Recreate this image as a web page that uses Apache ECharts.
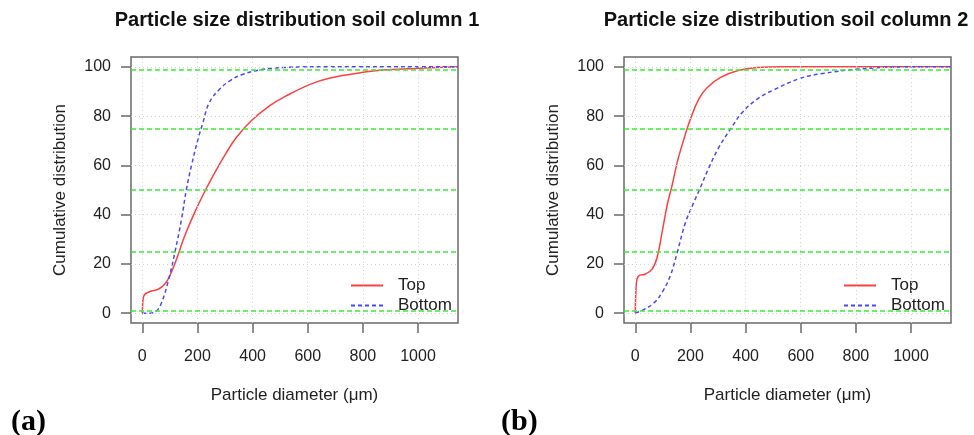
<!DOCTYPE html>
<html>
<head>
<meta charset="utf-8">
<script src="https://cdn.jsdelivr.net/npm/echarts@6/dist/echarts.min.js"></script>
<style>
  html, body { margin: 0; padding: 0; background: #fff; }
  #chart { width: 974px; height: 435px; }
</style>
</head>
<body>
<div id="chart"></div>
<script>
// column 1
var diam1Top = [0, 1, 4, 10, 28, 58, 82, 100, 124, 154, 190, 232, 269, 305, 341, 395, 461, 522, 606, 674, 794, 890, 1000, 1145];
var cum1Top = [0, 3, 6.4, 7.7, 8.8, 9.7, 11.8, 15.2, 21.9, 31.4, 40.9, 50.6, 58.3, 65.2, 71.3, 78.1, 84.2, 88.2, 92.8, 95.3, 97.7, 98.8, 99.4, 100];
var diam1Bottom = [0, 28, 52, 70, 94, 118, 142, 160, 178, 202, 220, 243, 281, 317, 365, 437, 510, 600, 1145];
var cum1Bottom = [0, 0, 1, 4.3, 13, 24.6, 38, 50.3, 59.8, 70.6, 77.4, 85.5, 91, 94.3, 97, 99, 99.7, 100, 100];
// column 2
var diam2Top = [0, 2, 6, 16, 36, 61, 79, 97, 115, 133, 152, 176, 200, 230, 261, 309, 370, 442, 539, 1145];
var cum2Top = [0, 8.4, 13.8, 15.4, 15.8, 17.9, 22.6, 32.7, 43.6, 51.7, 61.2, 70.6, 78.8, 86.9, 91.6, 95.7, 98.4, 99.7, 100, 100];
var diam2Bottom = [0, 30, 67, 97, 127, 152, 182, 212, 236, 267, 303, 345, 388, 442, 503, 600, 680, 800, 969, 1145];
var cum2Bottom = [0, 1.4, 4.1, 8.4, 15.2, 24.6, 36.8, 44.9, 51, 59.1, 67.3, 74.7, 81.5, 86.9, 90.7, 95.4, 97.3, 99, 100, 100];

var xTicks = [0, 200, 400, 600, 800, 1000];
var yTicks = [0, 20, 40, 60, 80, 100];
var refLines = [1, 25, 50, 75, 99];
var titles = ['Particle size distribution soil column 1', 'Particle size distribution soil column 2'];

var font = 'Liberation Sans, Arial, sans-serif';
var frameColor = '#6a6a6a';

function pairs(xs, ys) {
    return xs.map(function (x, i) { return [x, ys[i]]; });
}

function guideLines() {
    var data = [];
    xTicks.forEach(function (v) {
        data.push({xAxis: v, lineStyle: {color: '#d3d3d3', type: [1, 3], width: 1}});
    });
    yTicks.forEach(function (v) {
        data.push({yAxis: v, lineStyle: {color: '#d3d3d3', type: [1, 3], width: 1}});
    });
    refLines.forEach(function (v) {
        data.push({yAxis: v, lineStyle: {color: '#33ee33', type: [5, 3], width: 1.5}});
    });
    return {silent: true, symbol: 'none', label: {show: false}, animation: false, data: data};
}

function xAxis(idx) {
    return {
        type: 'value', gridIndex: idx, min: -41, max: 1145,
        name: 'Particle diameter (\u03bcm)', nameLocation: 'middle', nameGap: 64,
        nameTextStyle: {fontFamily: font, fontSize: 17, color: '#222'},
        axisLine: {show: false, onZero: false},
        axisTick: {show: true, customValues: xTicks, length: 10, lineStyle: {color: frameColor, width: 1.5}},
        axisLabel: {customValues: xTicks, margin: 26, fontFamily: font, fontSize: 16, color: '#222',
                    formatter: function (v) { return String(v); }},
        splitLine: {show: false}
    };
}

function yAxis(idx) {
    return {
        type: 'value', gridIndex: idx, min: -4, max: 104,
        name: 'Cumulative distribution', nameLocation: 'middle', nameGap: 62,
        nameTextStyle: {fontFamily: font, fontSize: 17, color: '#222'},
        axisLine: {show: false, onZero: false},
        axisTick: {show: true, customValues: yTicks, length: 10, lineStyle: {color: frameColor, width: 1.5}},
        axisLabel: {customValues: yTicks, margin: 20, fontFamily: font, fontSize: 16, color: '#222'},
        splitLine: {show: false}
    };
}

function legend(left) {
    return {
        orient: 'vertical', left: left, top: 272, itemWidth: 32, itemHeight: 14, itemGap: 3,
        data: ['Top', 'Bottom'],
        itemStyle: {opacity: 0},
        textStyle: {fontFamily: font, fontSize: 17, color: '#222', padding: [0, 0, 0, 10]}
    };
}

var chart = echarts.init(document.getElementById('chart'));
chart.setOption({
    animation: false,
    backgroundColor: '#fff',
    title: [
        {text: titles[0], left: 292, top: 5, textAlign: 'center',
         textStyle: {fontFamily: font, fontSize: 20, fontWeight: 'bold', color: '#111'}},
        {text: titles[1], left: 781, top: 5, textAlign: 'center',
         textStyle: {fontFamily: font, fontSize: 20, fontWeight: 'bold', color: '#111'}}
    ],
    grid: [
        {left: 131, top: 57, width: 327, height: 266, show: true, borderColor: frameColor, borderWidth: 1.5, backgroundColor: 'transparent'},
        {left: 624, top: 57, width: 327, height: 266, show: true, borderColor: frameColor, borderWidth: 1.5, backgroundColor: 'transparent'}
    ],
    xAxis: [xAxis(0), xAxis(1)],
    yAxis: [yAxis(0), yAxis(1)],
    legend: [legend(345), legend(838)],
    graphic: [
        {type: 'text', left: 11, top: 407, style: {text: '(a)', font: 'bold 30px "Liberation Serif", "Times New Roman", serif', fill: '#000'}},
        {type: 'text', left: 501, top: 407, style: {text: '(b)', font: 'bold 30px "Liberation Serif", "Times New Roman", serif', fill: '#000'}}
    ],
    series: [
        {name: 'Top', type: 'line', xAxisIndex: 0, yAxisIndex: 0, data: pairs(diam1Top, cum1Top),
         smooth: 0.4, symbol: 'none', clip: true, color: '#ff4040',
         lineStyle: {color: '#ff4040', width: 1.5}, markLine: guideLines()},
        {name: 'Bottom', type: 'line', xAxisIndex: 0, yAxisIndex: 0, data: pairs(diam1Bottom, cum1Bottom),
         smooth: 0.4, symbol: 'none', clip: true, color: '#4848ff',
         lineStyle: {color: '#4848ff', width: 1.5, type: [4, 3]}},
        {name: 'Top', type: 'line', xAxisIndex: 1, yAxisIndex: 1, data: pairs(diam2Top, cum2Top),
         smooth: 0.4, symbol: 'none', clip: true, color: '#ff4040',
         lineStyle: {color: '#ff4040', width: 1.5}, markLine: guideLines()},
        {name: 'Bottom', type: 'line', xAxisIndex: 1, yAxisIndex: 1, data: pairs(diam2Bottom, cum2Bottom),
         smooth: 0.4, symbol: 'none', clip: true, color: '#4848ff',
         lineStyle: {color: '#4848ff', width: 1.5, type: [4, 3]}}
    ]
});
</script>
</body>
</html>
